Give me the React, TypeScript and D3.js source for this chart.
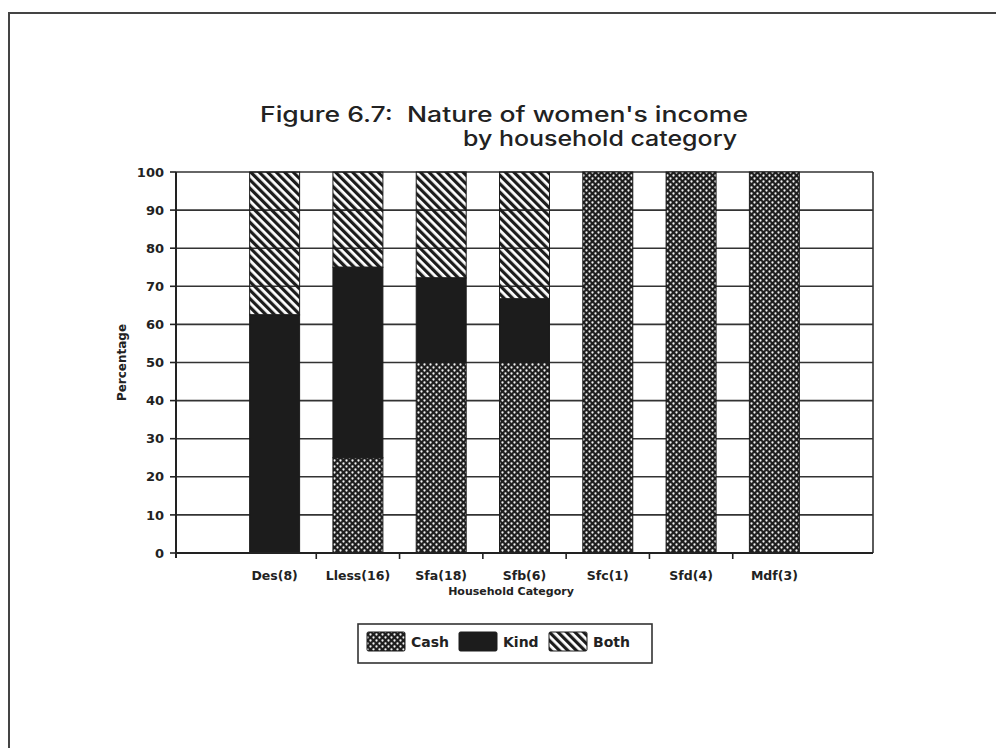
import React from "react";
import * as d3 from "d3";

// Household categories (sample size in brackets)
const categories = ["Des(8)", "Lless(16)", "Sfa(18)", "Sfb(6)", "Sfc(1)", "Sfd(4)", "Mdf(3)"];
// Share of women's income by nature, in percent
const cashValues = [0, 25, 50, 50, 100, 100, 100];
const kindValues = [62.5, 50, 22.2, 16.7, 0, 0, 0];
const bothValues = [37.5, 25, 27.8, 33.3, 0, 0, 0];
const seriesNames = ["Cash", "Kind", "Both"];
const yTicks = [0, 10, 20, 30, 40, 50, 60, 70, 80, 90, 100];

const W = 996;
const H = 752;
const plot = { left: 176, right: 873, top: 172, bottom: 553 };
const INK = "#1c1c1c";
const BOLD = "'DejaVu Sans', 'Liberation Sans', sans-serif";

export default function App() {
  const x = d3
    .scaleBand<string>()
    .domain(categories)
    .range([plot.left, plot.right])
    .paddingInner(0.4)
    .paddingOuter(0.884);
  const y = d3.scaleLinear().domain([0, 100]).range([plot.bottom, plot.top]);

  const rows = categories.map((c, i) => ({
    category: c,
    Cash: cashValues[i],
    Kind: kindValues[i],
    Both: bothValues[i],
  }));
  const stacked = d3.stack<any>().keys(seriesNames)(rows);
  const fills: Record<string, string> = {
    Cash: "url(#cashPat)",
    Kind: INK,
    Both: "url(#bothPat)",
  };

  const step = x.step();
  const gap = step * x.paddingInner();
  const boundaryTicks = categories.slice(1).map((c) => (x(c) as number) - gap / 2);

  return (
    <svg
      width={W}
      height={H}
      style={{ position: "absolute", left: 0, top: 0, background: "#fff" }}
      fontFamily={BOLD}
    >
      <defs>
        <pattern id="cashPat" width={6} height={6} patternUnits="userSpaceOnUse">
          <rect width={6} height={6} fill="#1e1e1e" />
          <circle cx={1.5} cy={1.5} r={1.15} fill="#f2f2f2" />
          <circle cx={4.5} cy={4.5} r={1.15} fill="#f2f2f2" />
        </pattern>
        <pattern
          id="bothPat"
          width={6}
          height={6}
          patternUnits="userSpaceOnUse"
          patternTransform="rotate(-45)"
        >
          <rect x={0} y={0} width={3.2} height={6} fill="#1c1c1c" />
        </pattern>
      </defs>

      {/* page frame */}
      <path d="M9,748 L9,13 L996,13" fill="none" stroke="#444" strokeWidth={2} />

      {/* title */}
      <text x={260} y={122} fontFamily="Inter, 'Noto Sans', sans-serif" fontWeight={500} fontSize={21} fill="#222" textLength={488} lengthAdjust="spacingAndGlyphs" style={{ whiteSpace: "pre" }}>
        {"Figure 6.7:  Nature of women's income"}
      </text>
      <text x={463} y={146} fontFamily="Inter, 'Noto Sans', sans-serif" fontWeight={500} fontSize={21} fill="#222" textLength={274} lengthAdjust="spacingAndGlyphs">
        by household category
      </text>

      {/* gridlines */}
      {yTicks.map((t) => (
        <line key={t} x1={plot.left} x2={plot.right} y1={y(t)} y2={y(t)} stroke="#333" strokeWidth={1.6} />
      ))}
      <line x1={plot.right} x2={plot.right} y1={plot.top} y2={plot.bottom} stroke="#333" strokeWidth={1.6} />

      {/* stacked bars */}
      {stacked.map((layer) => (
        <g key={layer.key}>
          {layer.map((d, i) => {
            const h = y(d[0]) - y(d[1]);
            if (h <= 0) return null;
            return (
              <rect
                key={i}
                x={x(categories[i])}
                y={y(d[1])}
                width={x.bandwidth()}
                height={h}
                fill={fills[layer.key]}
                stroke={INK}
                strokeWidth={1}
              />
            );
          })}
        </g>
      ))}

      {/* y axis */}
      <line x1={plot.left} x2={plot.left} y1={plot.top} y2={plot.bottom + 5} stroke="#222" strokeWidth={2} />
      {yTicks.map((t) => (
        <g key={t}>
          <line x1={plot.left - 6} x2={plot.left} y1={y(t)} y2={y(t)} stroke="#222" strokeWidth={1.6} />
          <text x={164} y={y(t)} dy="0.36em" textAnchor="end" fontSize={13} fontWeight="bold" fill="#222">
            {t}
          </text>
        </g>
      ))}
      <text
        transform={`translate(126,${(plot.top + plot.bottom) / 2}) rotate(-90)`}
        textAnchor="middle"
        fontSize={12}
        fontWeight="bold"
        fill="#222"
      >
        Percentage
      </text>

      {/* x axis */}
      <line x1={plot.left} x2={plot.right} y1={plot.bottom} y2={plot.bottom} stroke="#222" strokeWidth={2} />
      {boundaryTicks.map((bx, i) => (
        <line key={i} x1={bx} x2={bx} y1={plot.bottom} y2={plot.bottom + 6} stroke="#222" strokeWidth={1.6} />
      ))}
      {categories.map((c) => (
        <text
          key={c}
          x={(x(c) as number) + x.bandwidth() / 2}
          y={580}
          textAnchor="middle"
          fontSize={12.5}
          fontWeight="bold"
          fill="#222"
        >
          {c}
        </text>
      ))}
      <text x={511} y={595} textAnchor="middle" fontSize={11} fontWeight="bold" fill="#222">
        Household Category
      </text>

      {/* legend */}
      <rect x={358} y={624} width={294} height={39} fill="#fff" stroke="#333" strokeWidth={1.6} />
      {seriesNames.map((s, i) => {
        const sx = [367, 459, 549][i];
        return (
          <g key={s}>
            <rect x={sx} y={632} width={38} height={19} fill={fills[s]} stroke={INK} strokeWidth={1} rx={1.5} />
            <text x={sx + 44} y={647} fontSize={14} fontWeight="bold" fill="#222">
              {s}
            </text>
          </g>
        );
      })}
    </svg>
  );
}
